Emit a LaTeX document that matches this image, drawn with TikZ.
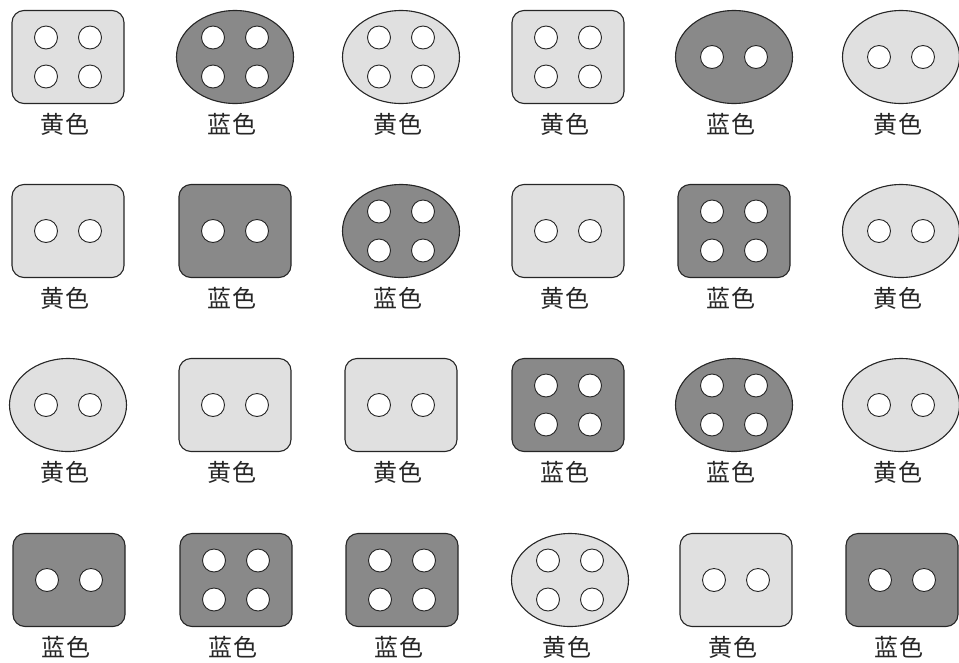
\documentclass[tikz,border=0pt]{standalone}
\usepackage{fontspec}
\newfontfamily\cjk{Noto Sans CJK SC}
\usetikzlibrary{positioning,shapes.geometric}
\definecolor{huang}{HTML}{E0E0E0}
\definecolor{lan}{HTML}{898989}

\begin{document}
\begin{tikzpicture}[x=1pt, y=-1pt,
            tile/.style={draw=black!85, line width=1.1pt, inner sep=0pt, minimum height=93pt},
            rect tile/.style={tile, rectangle, rounded corners=12pt, minimum width=112pt},
            oval tile/.style={tile, ellipse, minimum width=117pt},
            yellow tile/.style={fill=huang},
            blue tile/.style={fill=lan},
            hole/.style={draw=black!85, line width=0.9pt, fill=white},
            two holes/.style={path picture={
                \foreach \dx in {-22,22}
                    \draw[hole] ([xshift=\dx pt]path picture bounding box.center) circle (11.5pt);}},
            four holes/.style={path picture={
                \foreach \dx in {-22,22} \foreach \dy in {-19.5,19.5}
                    \draw[hole] ([shift={(\dx pt,\dy pt)}]path picture bounding box.center) circle (11.5pt);}},
            caption/.style={font=\cjk\fontsize{24}{24}\selectfont\addfontfeatures{LetterSpace=8}, text=black!85, inner sep=0pt, xshift=-3pt}
    ]
        \useasboundingbox (0,0) rectangle (959,662);

        % Row 1
        \node[rect tile, yellow tile, four holes] (tile_r1c1) at (68,57) {};
        \node[oval tile, blue tile, four holes] (tile_r1c2) at (235,57) {};
        \node[oval tile, yellow tile, four holes] (tile_r1c3) at (401,57) {};
        \node[rect tile, yellow tile, four holes] (tile_r1c4) at (568,57) {};
        \node[oval tile, blue tile, two holes] (tile_r1c5) at (734,57) {};
        \node[oval tile, yellow tile, two holes] (tile_r1c6) at (901,57) {};

        % Row 2
        \node[rect tile, yellow tile, two holes] (tile_r2c1) at (68,231) {};
        \node[rect tile, blue tile, two holes] (tile_r2c2) at (235,231) {};
        \node[oval tile, blue tile, four holes] (tile_r2c3) at (401,231) {};
        \node[rect tile, yellow tile, two holes] (tile_r2c4) at (568,231) {};
        \node[rect tile, blue tile, four holes] (tile_r2c5) at (734,231) {};
        \node[oval tile, yellow tile, two holes] (tile_r2c6) at (901,231) {};

        % Row 3
        \node[oval tile, yellow tile, two holes] (tile_r3c1) at (68,405) {};
        \node[rect tile, yellow tile, two holes] (tile_r3c2) at (235,405) {};
        \node[rect tile, yellow tile, two holes] (tile_r3c3) at (401,405) {};
        \node[rect tile, blue tile, four holes] (tile_r3c4) at (568,405) {};
        \node[oval tile, blue tile, four holes] (tile_r3c5) at (734,405) {};
        \node[oval tile, yellow tile, two holes] (tile_r3c6) at (901,405) {};

        % Row 4
        \node[rect tile, blue tile, two holes] (tile_r4c1) at (69,580) {};
        \node[rect tile, blue tile, four holes] (tile_r4c2) at (236,580) {};
        \node[rect tile, blue tile, four holes] (tile_r4c3) at (402,580) {};
        \node[oval tile, yellow tile, four holes] (tile_r4c4) at (570,580) {};
        \node[rect tile, yellow tile, two holes] (tile_r4c5) at (736,580) {};
        \node[rect tile, blue tile, two holes] (tile_r4c6) at (902,580) {};

        % Captions
        \node[caption, below=9pt of tile_r1c1] (cap_r1c1) {黄色};
        \node[caption, below=9pt of tile_r1c2] (cap_r1c2) {蓝色};
        \node[caption, below=9pt of tile_r1c3] (cap_r1c3) {黄色};
        \node[caption, below=9pt of tile_r1c4] (cap_r1c4) {黄色};
        \node[caption, below=9pt of tile_r1c5] (cap_r1c5) {蓝色};
        \node[caption, below=9pt of tile_r1c6] (cap_r1c6) {黄色};

        \node[caption, below=9pt of tile_r2c1] (cap_r2c1) {黄色};
        \node[caption, below=9pt of tile_r2c2] (cap_r2c2) {蓝色};
        \node[caption, below=9pt of tile_r2c3] (cap_r2c3) {蓝色};
        \node[caption, below=9pt of tile_r2c4] (cap_r2c4) {黄色};
        \node[caption, below=9pt of tile_r2c5] (cap_r2c5) {蓝色};
        \node[caption, below=9pt of tile_r2c6] (cap_r2c6) {黄色};

        \node[caption, below=9pt of tile_r3c1] (cap_r3c1) {黄色};
        \node[caption, below=9pt of tile_r3c2] (cap_r3c2) {黄色};
        \node[caption, below=9pt of tile_r3c3] (cap_r3c3) {黄色};
        \node[caption, below=9pt of tile_r3c4] (cap_r3c4) {蓝色};
        \node[caption, below=9pt of tile_r3c5] (cap_r3c5) {蓝色};
        \node[caption, below=9pt of tile_r3c6] (cap_r3c6) {黄色};

        \node[caption, below=9pt of tile_r4c1] (cap_r4c1) {蓝色};
        \node[caption, below=9pt of tile_r4c2] (cap_r4c2) {蓝色};
        \node[caption, below=9pt of tile_r4c3] (cap_r4c3) {蓝色};
        \node[caption, below=9pt of tile_r4c4] (cap_r4c4) {黄色};
        \node[caption, below=9pt of tile_r4c5] (cap_r4c5) {黄色};
        \node[caption, below=9pt of tile_r4c6] (cap_r4c6) {蓝色};

    \end{tikzpicture}
\end{document}
